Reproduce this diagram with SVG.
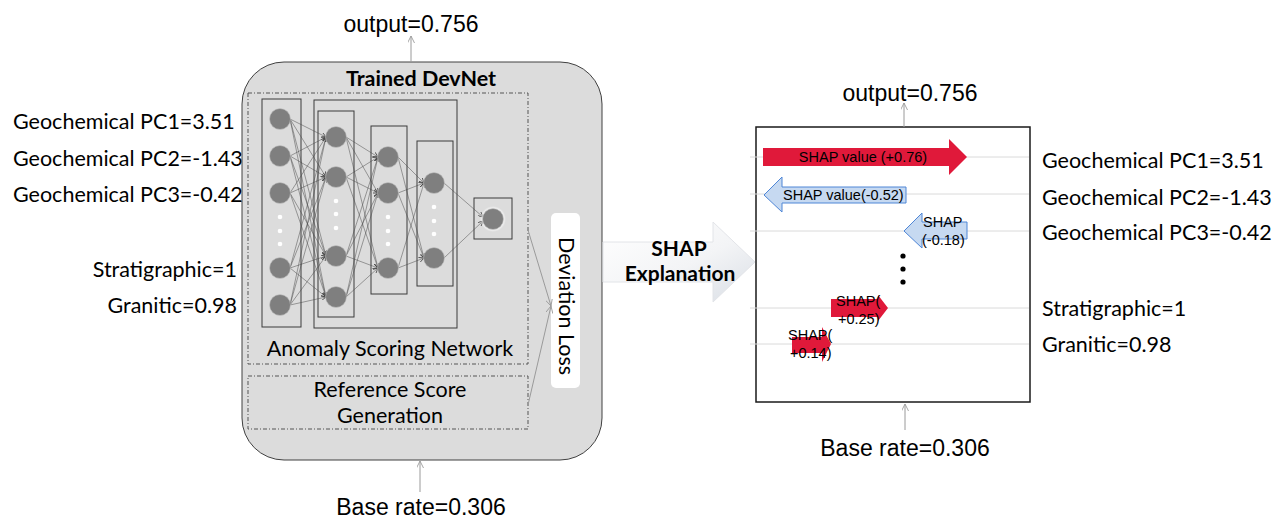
<svg xmlns="http://www.w3.org/2000/svg" width="1274" height="520" viewBox="0 0 1274 520">
  <style>
    .cal { font-family: Lato, "Open Sans", "Liberation Sans", sans-serif; fill: #000; }
    .ari { font-family: "Liberation Sans", Arial, sans-serif; fill: #000; }
    .feat { font-size: 21.5px; }
    .big { font-size: 23px; }
    .small { font-size: 14.5px; }
    .layer { fill: none; stroke: #3a3a3a; stroke-width: 1; }
    .node { fill: #7f7f7f; stroke: #c8c8c8; stroke-width: 0.6; }
    .dot { fill: #ffffff; }
    .edge { stroke: #4a4a4a; stroke-width: 0.5; marker-end: url(#tiny); }
    .link { stroke: #9a9a9a; stroke-width: 1; fill: none; marker-end: url(#open); }
    .dashbox { fill: none; stroke: #555; stroke-width: 1; stroke-dasharray: 4 2 1 2; }
    .grid { stroke: #dadada; stroke-width: 1; }
    .pos { fill: #e0193a; }
    .neg { fill: #c6d9f1; stroke: #4f86d6; stroke-width: 1; }
  </style>
  <defs>
    <marker id="tiny" viewBox="0 0 6 6" refX="6" refY="3" markerWidth="5" markerHeight="5" markerUnits="userSpaceOnUse" orient="auto">
      <path d="M0,0 L6,3 L0,6" fill="none" stroke="#4a4a4a" stroke-width="1"/>
    </marker>
    <marker id="open" viewBox="0 0 8 8" refX="8" refY="4" markerWidth="7" markerHeight="7" markerUnits="userSpaceOnUse" orient="auto">
      <path d="M0,0 L8,4 L0,8" fill="none" stroke="#9a9a9a" stroke-width="1"/>
    </marker>
    <linearGradient id="shapfill" x1="0" y1="0" x2="1" y2="1">
      <stop offset="0" stop-color="#ffffff"/>
      <stop offset="0.55" stop-color="#f3f4f6"/>
      <stop offset="1" stop-color="#d9dee5"/>
    </linearGradient>
    <radialGradient id="glow" cx="0.5" cy="0.5" r="0.5">
      <stop offset="0.75" stop-color="#ffffff" stop-opacity="0.9"/>
      <stop offset="1" stop-color="#ffffff" stop-opacity="0"/>
    </radialGradient>
  </defs>

  <rect width="1274" height="520" fill="#ffffff"/>

  <!-- input feature labels (left) -->
  <g id="inputs">
    <text class="cal feat" x="13" y="129">Geochemical PC1=3.51</text>
    <text class="cal feat" x="13" y="166">Geochemical PC2=-1.43</text>
    <text class="cal feat" x="13" y="202">Geochemical PC3=-0.42</text>
    <text class="cal feat" x="237" y="277" text-anchor="end">Stratigraphic=1</text>
    <text class="cal feat" x="237" y="313" text-anchor="end">Granitic=0.98</text>
  </g>

  <!-- trained model container -->
  <g id="devnet">
    <rect x="242" y="62" width="360" height="398" rx="42" fill="#dcdcdc" stroke="#404040" stroke-width="1"/>
    <text class="cal" x="421" y="86" font-size="21.5" font-weight="bold" text-anchor="middle">Trained DevNet</text>
  </g>

  <g id="scoring-network">
    <rect class="dashbox" x="248" y="93" width="280" height="271"/>
    <rect class="layer" x="262" y="99" width="39" height="228"/>
    <rect class="layer" x="314" y="100" width="143" height="228"/>
    <rect class="layer" x="318" y="111" width="36" height="206"/>
    <rect class="layer" x="371" y="126" width="36" height="168"/>
    <rect class="layer" x="417" y="141" width="36" height="145"/>
    <rect class="layer" x="474" y="198" width="38" height="41"/>
    <text class="cal" x="390" y="356" font-size="21.5" text-anchor="middle">Anomaly Scoring Network</text>
  </g>

  <g id="network-edges">
    <!-- layer 1 to layer 2 -->
    <line class="edge" x1="290" y1="119" x2="326" y2="137"/>
    <line class="edge" x1="290" y1="119" x2="326" y2="177"/>
    <line class="edge" x1="290" y1="119" x2="326" y2="256"/>
    <line class="edge" x1="290" y1="119" x2="326" y2="297"/>
    <line class="edge" x1="290" y1="156" x2="326" y2="137"/>
    <line class="edge" x1="290" y1="156" x2="326" y2="177"/>
    <line class="edge" x1="290" y1="156" x2="326" y2="256"/>
    <line class="edge" x1="290" y1="156" x2="326" y2="297"/>
    <line class="edge" x1="290" y1="193" x2="326" y2="137"/>
    <line class="edge" x1="290" y1="193" x2="326" y2="177"/>
    <line class="edge" x1="290" y1="193" x2="326" y2="256"/>
    <line class="edge" x1="290" y1="193" x2="326" y2="297"/>
    <line class="edge" x1="290" y1="268" x2="326" y2="137"/>
    <line class="edge" x1="290" y1="268" x2="326" y2="177"/>
    <line class="edge" x1="290" y1="268" x2="326" y2="256"/>
    <line class="edge" x1="290" y1="268" x2="326" y2="297"/>
    <line class="edge" x1="290" y1="305" x2="326" y2="137"/>
    <line class="edge" x1="290" y1="305" x2="326" y2="177"/>
    <line class="edge" x1="290" y1="305" x2="326" y2="256"/>
    <line class="edge" x1="290" y1="305" x2="326" y2="297"/>
    <!-- layer 2 to layer 3 -->
    <line class="edge" x1="346" y1="137" x2="378" y2="157"/>
    <line class="edge" x1="346" y1="137" x2="378" y2="193"/>
    <line class="edge" x1="346" y1="137" x2="378" y2="268"/>
    <line class="edge" x1="346" y1="177" x2="378" y2="157"/>
    <line class="edge" x1="346" y1="177" x2="378" y2="193"/>
    <line class="edge" x1="346" y1="177" x2="378" y2="268"/>
    <line class="edge" x1="346" y1="256" x2="378" y2="157"/>
    <line class="edge" x1="346" y1="256" x2="378" y2="193"/>
    <line class="edge" x1="346" y1="256" x2="378" y2="268"/>
    <line class="edge" x1="346" y1="297" x2="378" y2="157"/>
    <line class="edge" x1="346" y1="297" x2="378" y2="193"/>
    <line class="edge" x1="346" y1="297" x2="378" y2="268"/>
    <!-- layer 3 to layer 4 -->
    <line class="edge" x1="398" y1="157" x2="424" y2="183"/>
    <line class="edge" x1="398" y1="157" x2="424" y2="258"/>
    <line class="edge" x1="398" y1="193" x2="424" y2="183"/>
    <line class="edge" x1="398" y1="193" x2="424" y2="258"/>
    <line class="edge" x1="398" y1="268" x2="424" y2="183"/>
    <line class="edge" x1="398" y1="268" x2="424" y2="258"/>
    <!-- layer 4 to output -->
    <line class="edge" x1="444" y1="183" x2="483" y2="217"/>
    <line class="edge" x1="444" y1="258" x2="483" y2="221"/>
  </g>

  <g id="layer1">
    <circle class="node" cx="280" cy="119" r="10.5"/>
    <circle class="node" cx="280" cy="156" r="10.5"/>
    <circle class="node" cx="280" cy="193" r="10.5"/>
    <circle class="dot" cx="280" cy="217" r="2.3"/>
    <circle class="dot" cx="280" cy="231" r="2.3"/>
    <circle class="dot" cx="280" cy="244" r="2.3"/>
    <circle class="node" cx="280" cy="268" r="10.5"/>
    <circle class="node" cx="280" cy="305" r="10.5"/>
  </g>
  <g id="layer2">
    <circle class="node" cx="336" cy="137" r="10.5"/>
    <circle class="node" cx="336" cy="177" r="10.5"/>
    <circle class="dot" cx="336" cy="201" r="2.3"/>
    <circle class="dot" cx="336" cy="214" r="2.3"/>
    <circle class="dot" cx="336" cy="228" r="2.3"/>
    <circle class="node" cx="336" cy="256" r="10.5"/>
    <circle class="node" cx="336" cy="297" r="10.5"/>
  </g>
  <g id="layer3">
    <circle class="node" cx="388" cy="157" r="10.5"/>
    <circle class="node" cx="388" cy="193" r="10.5"/>
    <circle class="dot" cx="388" cy="217" r="2.3"/>
    <circle class="dot" cx="388" cy="231" r="2.3"/>
    <circle class="dot" cx="388" cy="244" r="2.3"/>
    <circle class="node" cx="388" cy="268" r="10.5"/>
  </g>
  <g id="layer4">
    <circle class="node" cx="434" cy="183" r="10.5"/>
    <circle class="dot" cx="434" cy="207" r="2.3"/>
    <circle class="dot" cx="434" cy="221" r="2.3"/>
    <circle class="dot" cx="434" cy="234" r="2.3"/>
    <circle class="node" cx="434" cy="258" r="10.5"/>
  </g>
  <g id="output-node">
    <circle cx="493" cy="219" r="13" fill="url(#glow)"/>
    <circle class="node" cx="493" cy="219" r="10.5"/>
  </g>

  <g id="reference-score">
    <rect class="dashbox" x="248" y="376" width="280" height="53"/>
    <text class="cal" x="390" y="397" font-size="21.5" text-anchor="middle">Reference Score</text>
    <text class="cal" x="390" y="423" font-size="21.5" text-anchor="middle">Generation</text>
  </g>

  <g id="deviation-loss">
    <rect x="551" y="213" width="29" height="175" rx="5" fill="#ffffff"/>
    <text class="cal" transform="translate(566,306) rotate(90)" x="0" y="7" font-size="21.5" text-anchor="middle">Deviation Loss</text>
  </g>

  <!-- explanation arrow between the two panels -->
  <g id="shap-explanation">
    <polygon points="603,242 713,242 713,222 755,262 713,302 713,282 603,282" fill="url(#shapfill)" stroke="#e2e4e8" stroke-width="1"/>
    <text class="cal" x="679" y="256" font-size="21" font-weight="bold" text-anchor="middle">SHAP</text>
    <text class="cal" x="680" y="281" font-size="21" font-weight="bold" text-anchor="middle">Explanation</text>
  </g>

  <!-- force plot panel -->
  <g id="shap-panel">
    <rect x="756" y="127" width="274" height="275" fill="#ffffff" stroke="#1a1a1a" stroke-width="1.5"/>
    <line class="grid" x1="750" y1="157" x2="1029" y2="157"/>
    <line class="grid" x1="750" y1="194" x2="1029" y2="194"/>
    <line class="grid" x1="750" y1="231" x2="1029" y2="231"/>
    <line class="grid" x1="750" y1="308" x2="1029" y2="308"/>
    <line class="grid" x1="750" y1="344" x2="1029" y2="344"/>
  </g>

  <g id="shap-pc1">
    <polygon class="pos" points="763,148 949,148 949,139 967,157 949,175 949,166 763,166"/>
    <text class="ari small" x="863" y="162" text-anchor="middle">SHAP value (+0.76)</text>
  </g>
  <g id="shap-pc2">
    <polygon class="neg" points="764,195 782,177 782,187 906,187 906,203 782,203 782,212"/>
    <text class="ari small" x="783" y="200">SHAP value(-0.52)</text>
  </g>
  <g id="shap-pc3">
    <polygon class="neg" points="904,231 922,213 922,222 967,222 967,239 922,239 922,248"/>
    <text class="ari small" x="923" y="227">SHAP</text>
    <text class="ari small" x="922" y="245">(-0.18)</text>
  </g>
  <g id="ellipsis">
    <circle cx="903" cy="256" r="2.6" fill="#000"/>
    <circle cx="903" cy="269" r="2.6" fill="#000"/>
    <circle cx="903" cy="282" r="2.6" fill="#000"/>
  </g>
  <g id="shap-strat">
    <polygon class="pos" points="831,299 878,299 878,295 888,308 878,321 878,317 831,317"/>
    <text class="ari small" x="836" y="306">SHAP(</text>
    <text class="ari small" x="838" y="324">+0.25)</text>
  </g>
  <g id="shap-granitic">
    <polygon class="pos" points="792,337 822,337 822,327 831,344 822,362 822,353 792,353"/>
    <text class="ari small" x="788" y="340">SHAP(</text>
    <text class="ari small" x="790" y="358">+0.14)</text>
  </g>

  <!-- feature labels (right) -->
  <g id="panel-features">
    <text class="cal feat" x="1042" y="168">Geochemical PC1=3.51</text>
    <text class="cal feat" x="1042" y="205">Geochemical PC2=-1.43</text>
    <text class="cal feat" x="1042" y="240">Geochemical PC3=-0.42</text>
    <text class="cal feat" x="1042" y="316">Stratigraphic=1</text>
    <text class="cal feat" x="1042" y="352">Granitic=0.98</text>
  </g>

  <g id="outputs">
    <text class="ari big" x="411" y="32" text-anchor="middle">output=0.756</text>
    <text class="ari big" x="421" y="515" text-anchor="middle">Base rate=0.306</text>
    <text class="ari big" x="910" y="101" text-anchor="middle">output=0.756</text>
    <text class="ari big" x="905" y="456" text-anchor="middle">Base rate=0.306</text>
  </g>

  <g id="connectors">
    <line class="link" x1="411" y1="62" x2="411" y2="36"/>
    <line class="link" x1="420" y1="492" x2="420" y2="461"/>
    <line class="link" x1="904" y1="127" x2="904" y2="103"/>
    <line class="link" x1="905" y1="430" x2="905" y2="404"/>
    <line class="link" x1="528" y1="230" x2="551" y2="306"/>
    <line class="link" x1="528" y1="405" x2="551" y2="306"/>
  </g>
</svg>
